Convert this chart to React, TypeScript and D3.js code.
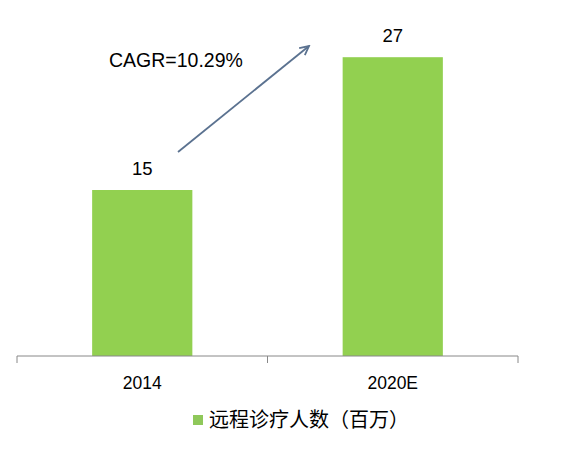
import React from "react";
import * as d3 from "d3";

const categories = ["2014", "2020E"];
const values = [15, 27];
const seriesName = "远程诊疗人数（百万）";
const cagrLabel = "CAGR=10.29%";

const W = 564;
const H = 450;
const axisY = 356;
const x0 = 17;
const x1 = 518;

export default function App() {
  const x = d3
    .scaleBand<string>()
    .domain(categories)
    .range([x0, x1])
    .paddingInner(0.6)
    .paddingOuter(0.3);
  const y = d3.scaleLinear().domain([0, 30]).range([axisY, axisY - 332]);
  const step = x.step();
  const tickXs = [x0, ...categories.map((c) => (x(c) as number) - step * 0.3 + step)];
  const green = "#92d050";
  const font = "'Liberation Sans', Arial, sans-serif";
  return (
    <svg
      width={W}
      height={H}
      style={{ position: "absolute", left: 0, top: 0, background: "#fff" }}
    >
      <defs>
        <marker
          id="arr"
          viewBox="0 0 12 12"
          refX="10"
          refY="6"
          markerWidth="12"
          markerHeight="12"
          orient="auto"
          markerUnits="userSpaceOnUse"
        >
          <path d="M1,1.5 L10,6 L1,10.5" fill="none" stroke="#5b7290" strokeWidth="1.8" />
        </marker>
      </defs>
      {categories.map((c, i) => (
        <rect
          key={c}
          x={x(c)}
          y={y(values[i])}
          width={x.bandwidth()}
          height={axisY - y(values[i])}
          fill={green}
        />
      ))}
      <line x1={x0} x2={x1} y1={axisY} y2={axisY} stroke="#888" strokeWidth={1} />
      {tickXs.map((tx, i) => (
        <line key={i} x1={tx} x2={tx} y1={axisY} y2={axisY + 7} stroke="#888" strokeWidth={1} />
      ))}
      {categories.map((c, i) => (
        <text
          key={"v" + c}
          x={(x(c) as number) + x.bandwidth() / 2}
          y={y(values[i]) - 15}
          textAnchor="middle"
          fontFamily={font}
          fontSize={18.5}
          fill="#000"
        >
          {values[i]}
        </text>
      ))}
      {categories.map((c) => (
        <text
          key={"c" + c}
          x={(x(c) as number) + x.bandwidth() / 2}
          y={389}
          textAnchor="middle"
          fontFamily={font}
          fontSize={17.5}
          fill="#000"
        >
          {c}
        </text>
      ))}
      <text x={109} y={67} fontFamily={font} fontSize={19.5} fill="#000">
        {cagrLabel}
      </text>
      <line
        x1={178}
        y1={152}
        x2={309}
        y2={46}
        stroke="#5b7290"
        strokeWidth={1.8}
        markerEnd="url(#arr)"
      />
      <rect x={193} y={415} width={10} height={10} fill="#8fc85a" />
      <text
        x={209}
        y={427}
        fontFamily="'Noto Sans CJK SC', sans-serif"
        fontSize={20}
        fill="#000"
      >
        {seriesName}
      </text>
    </svg>
  );
}
